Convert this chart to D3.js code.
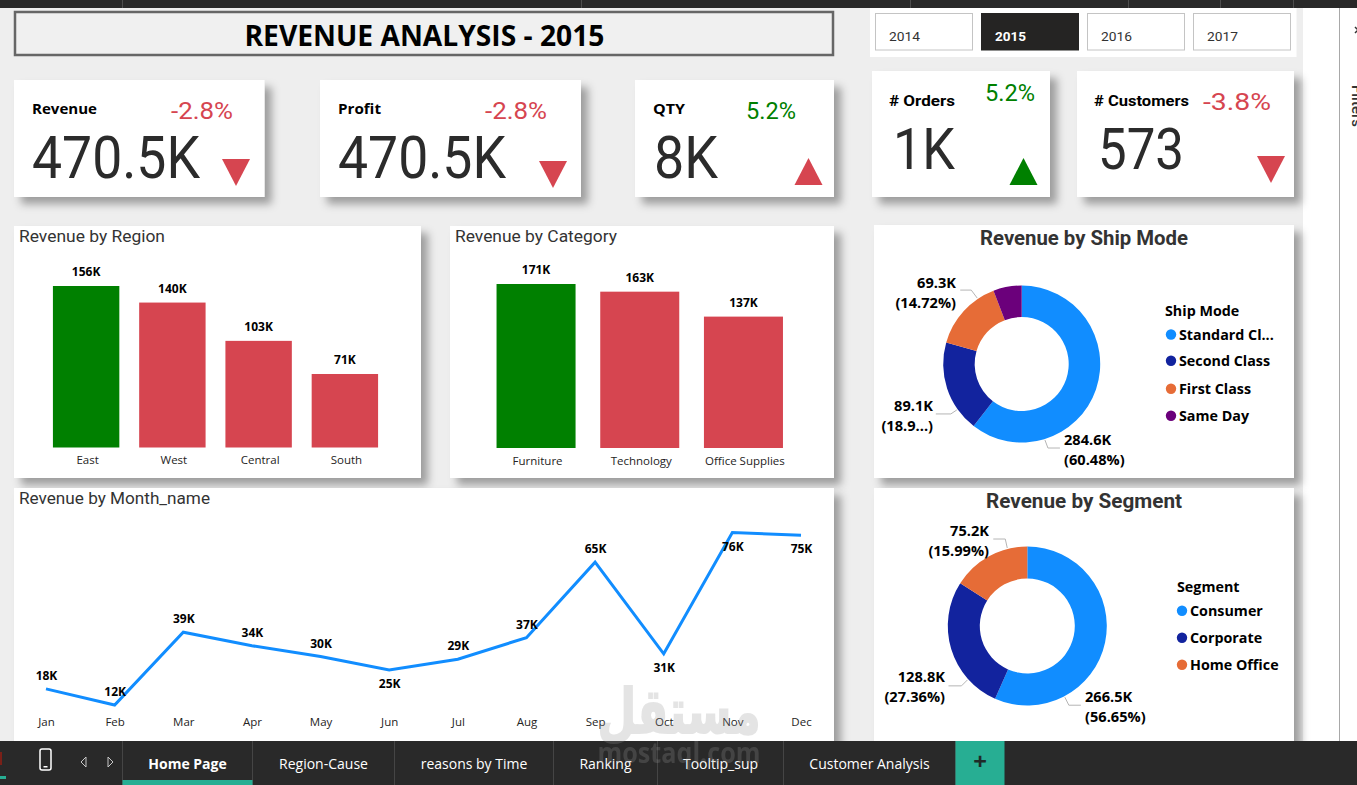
<!DOCTYPE html>
<html>
<head>
<meta charset="utf-8">
<title>Revenue Analysis 2015</title>
<script src="https://cdn.jsdelivr.net/npm/d3@7/dist/d3.min.js"></script>
<style>
  html, body { margin: 0; padding: 0; background: #eeeeee; overflow: hidden; }
  svg { display: block; }
  .axis path, .axis line { display: none; }
</style>
</head>
<body>
<svg id="report" width="1357" height="785"></svg>
<script>
// ---- report data ----
const reportTitle = "REVENUE ANALYSIS - 2015";
const years = ["2014", "2015", "2016", "2017"];
const selectedYear = "2015";

const kpiNames = ["Revenue", "Profit", "QTY", "# Orders", "# Customers"];
const kpiLabels = ["470.5K", "470.5K", "8K", "1K", "573"];
const kpiDeltas = [-2.8, -2.8, 5.2, 5.2, -3.8];
const kpiArrowOnTarget = [false, false, false, true, false];

const regions = ["East", "West", "Central", "South"];
const regionRevenue = [156, 140, 103, 71];

const categories = ["Furniture", "Technology", "Office Supplies"];
const categoryRevenue = [171, 163, 137];

const months = ["Jan", "Feb", "Mar", "Apr", "May", "Jun", "Jul", "Aug", "Sep", "Oct", "Nov", "Dec"];
const monthRevenue = [18, 12, 39, 34, 30, 25, 29, 37, 65, 31, 76, 75];
const monthsLabelledBelow = ["Jun", "Oct", "Nov", "Dec"];

const shipModes = ["Standard Class", "Second Class", "First Class", "Same Day"];
const shipModeLegend = ["Standard Cl...", "Second Class", "First Class", "Same Day"];
const shipRevenue = [284.6, 89.1, 69.3, 27.5];
const shipLabels = [["284.6K", "(60.48%)"], ["89.1K", "(18.9...)"], ["69.3K", "(14.72%)"]];

const segments = ["Consumer", "Corporate", "Home Office"];
const segmentRevenue = [266.5, 128.8, 75.2];
const segmentLabels = [["266.5K", "(56.65%)"], ["128.8K", "(27.36%)"], ["75.2K", "(15.99%)"]];

const tabs = ["Home Page", "Region-Cause", "reasons by Time", "Ranking", "Tooltip_sup", "Customer Analysis"];

// ---- palette and fonts ----
const GOOD = "#008000", BAD = "#D64550", BLUE = "#118DFF";
const sliceColors = ["#118DFF", "#12239E", "#E66C37", "#6B007B"];
const UI = "'Open Sans', 'Noto Sans', sans-serif";
const DIN = "Roboto, sans-serif";

const svg = d3.select("#report");

const defs = svg.append("defs");
const shadow = defs.append("filter").attr("id", "cardShadow")
  .attr("x", "-10%").attr("y", "-10%").attr("width", "125%").attr("height", "130%");
shadow.append("feDropShadow").attr("dx", 7).attr("dy", 7).attr("stdDeviation", 4)
  .attr("flood-color", "#000").attr("flood-opacity", 0.34);

// Text helper: `fit` squeezes or stretches the run to a given pixel width.
function text(parent, x, y, str, o = {}) {
  const t = parent.append("text").attr("x", x).attr("y", y).text(str)
    .attr("font-family", o.font || UI)
    .attr("font-size", o.size || 12)
    .attr("font-weight", o.weight || 400)
    .attr("fill", o.fill || "#000")
    .attr("text-anchor", o.anchor || "start");
  if (o.fit) t.attr("textLength", o.fit).attr("lengthAdjust", "spacingAndGlyphs");
  return t;
}

function panel(x, y, w, h) {
  svg.append("rect").attr("x", x).attr("y", y).attr("width", w).attr("height", h)
    .attr("fill", "#fff").attr("filter", "url(#cardShadow)");
}

// ---- chrome behind the canvas ----
svg.append("rect").attr("width", 1357).attr("height", 785).attr("fill", "#eeeeee");
svg.append("rect").attr("x", 1303).attr("width", 54).attr("height", 785).attr("fill", "#fff");
svg.append("line").attr("x1", 1339.5).attr("x2", 1339.5).attr("y1", 8).attr("y2", 741)
  .attr("stroke", "#a8a8a8");
text(svg, 0, 0, "Filters", { size: 15, font: DIN, weight: 500, fill: "#333" })
  .attr("transform", "translate(1352,85) rotate(90)");
svg.append("path").attr("d", "M1355 27l3 3l-3 3").attr("fill", "none").attr("stroke", "#333").attr("stroke-width", 1.5);

// ---- title banner ----
svg.append("rect").attr("x", 15).attr("y", 12).attr("width", 818).attr("height", 43)
  .attr("fill", "#f0f0f0").attr("stroke", "#666").attr("stroke-width", 2.5);
text(svg, 244.5, 46, reportTitle, { size: 28, weight: 700, fit: 360 });

// ---- year slicer ----
svg.append("rect").attr("x", 870).attr("y", 8).attr("width", 426.5).attr("height", 49).attr("fill", "#fff");
const slicerX = d3.scalePoint().domain(years).range([875, 1193]);
years.forEach(year => {
  const on = year === selectedYear, x = slicerX(year);
  svg.append("rect").attr("x", x + .5).attr("y", 13.5).attr("width", 97).attr("height", 36.5)
    .attr("fill", on ? "#252423" : "#fff").attr("stroke", on ? "#252423" : "#c4c4c4");
  text(svg, x + 14, 41, year, { font: DIN, size: 13.5, weight: on ? 700 : 400, fill: on ? "#fff" : "#333", fit: 31 });
});

// ---- KPI cards ----
const cardLayout = [
  { x: 14,   w: 250.5, y: 80, h: 117, nameX: 32,   nameY: 114, nameFit: 65, nameFont: UI,  numX: 32,   numY: 178, numFit: 168, numSize: 60, dX: 171,  dY: 119, dFit: 62, tX: 236,    tTop: 159 },
  { x: 320,  w: 261,   y: 80, h: 117, nameX: 338,  nameY: 114, nameFit: 43, nameFont: UI,  numX: 338,  numY: 178, numFit: 168, numSize: 60, dX: 485,  dY: 119, dFit: 62, tX: 553,    tTop: 161 },
  { x: 635,  w: 199,   y: 80, h: 117, nameX: 653,  nameY: 114, nameFit: 32, nameFont: UI,  numX: 654,  numY: 178, numFit: 64,  numSize: 60, dX: 746,  dY: 119, dFit: 50, tX: 808.5,  tTop: 158 },
  { x: 872,  w: 178,   y: 71, h: 126, nameX: 889,  nameY: 106, nameFit: 66, nameFont: DIN, numX: 893,  numY: 169, numFit: 62,  numSize: 58, dX: 985,  dY: 101, dFit: 50, tX: 1023.5, tTop: 158 },
  { x: 1077, w: 217,   y: 71, h: 126, nameX: 1094, nameY: 106, nameFit: 95, nameFont: DIN, numX: 1098, numY: 169, numFit: 86,  numSize: 58, dX: 1203, dY: 110, dFit: 68, tX: 1271,   tTop: 156 }
];
const triangle = d3.line();
kpiNames.forEach((name, i) => {
  const c = cardLayout[i], up = kpiDeltas[i] > 0;
  panel(c.x, c.y, c.w, c.h);
  text(svg, c.nameX, c.nameY, name, { size: 14, weight: 700, font: c.nameFont, fit: c.nameFit });
  text(svg, c.numX, c.numY, kpiLabels[i], { size: c.numSize, font: DIN, fill: "#2b2b2b", fit: c.numFit });
  text(svg, c.dX, c.dY, (up ? "" : "-") + Math.abs(kpiDeltas[i]).toFixed(1) + "%",
    { size: 24, font: DIN, fill: up ? GOOD : BAD, fit: c.dFit });
  const tipY = up ? c.tTop : c.tTop + 27, baseY = up ? c.tTop + 27 : c.tTop;
  svg.append("path").attr("fill", kpiArrowOnTarget[i] ? GOOD : BAD)
    .attr("d", triangle([[c.tX - 14, baseY], [c.tX + 14, baseY], [c.tX, tipY]]) + "Z");
});

// ---- bar charts ----
function barChart(names, values, o) {
  panel(o.panel[0], o.panel[1], o.panel[2], o.panel[3]);
  text(svg, o.panel[0] + 5, o.panel[1] + 16, o.title, { font: DIN, size: 16, fill: "#333", fit: o.titleFit });
  const x = d3.scaleBand().domain(names).range(o.xRange).paddingInner(o.pad).paddingOuter(o.pad / 2);
  const y = d3.scaleLinear().domain([0, d3.max(values)]).range([o.baseY, o.topY]);
  const g = svg.append("g");
  g.selectAll("rect").data(values).join("rect")
    .attr("x", (d, i) => x(names[i]))
    .attr("y", d => y(d))
    .attr("width", x.bandwidth())
    .attr("height", d => o.baseY - y(d))
    .attr("fill", (d, i) => i === 0 ? GOOD : BAD);
  g.selectAll("text").data(values).join("text")
    .attr("x", (d, i) => x(names[i]) + x.bandwidth() / 2)
    .attr("y", d => y(d) - 10)
    .attr("text-anchor", "middle")
    .attr("font-family", UI).attr("font-size", 12).attr("font-weight", 700).attr("fill", "#000")
    .text(d => d + "K");
  const axis = svg.append("g").attr("class", "axis")
    .attr("transform", `translate(0,${o.baseY})`)
    .call(d3.axisBottom(x).tickSize(0).tickPadding(o.tickPad));
  axis.selectAll("text").attr("font-family", UI).attr("font-size", 11.5).attr("fill", "#252423")
    .attr("dx", 1.5);
}
barChart(regions, regionRevenue, {
  panel: [14, 226, 407, 252], title: "Revenue by Region", titleFit: 146,
  xRange: [43, 388], pad: 0.23, baseY: 447.5, topY: 286, tickPad: 8
});
barChart(categories, categoryRevenue, {
  panel: [450, 226, 384, 252], title: "Revenue by Category", titleFit: 162,
  xRange: [484.2, 795.3], pad: 0.238, baseY: 448, topY: 284, tickPad: 9
});

// ---- monthly line ----
panel(14, 488, 820, 260);
text(svg, 19, 504, "Revenue by Month_name", { font: DIN, size: 16, fill: "#333", fit: 191 });
const xMonth = d3.scalePoint().domain(months).range([46, 801]);
const yMonth = d3.scaleLinear().domain([0, 76]).range([737.4, 532.5]);
svg.append("path").datum(monthRevenue)
  .attr("fill", "none").attr("stroke", BLUE).attr("stroke-width", 3).attr("stroke-linejoin", "miter")
  .attr("d", d3.line().x((d, i) => xMonth(months[i])).y(d => yMonth(d)));
svg.append("g").selectAll("text").data(monthRevenue).join("text")
  .attr("x", (d, i) => xMonth(months[i]) + 0.5)
  .attr("y", (d, i) => yMonth(d) + (monthsLabelledBelow.includes(months[i]) ? 18 : -9))
  .attr("text-anchor", "middle")
  .attr("font-family", UI).attr("font-size", 12).attr("font-weight", 700).attr("fill", "#000")
  .text(d => d + "K");
const monthAxis = svg.append("g").attr("class", "axis").attr("transform", "translate(0,706)")
  .call(d3.axisBottom(xMonth).tickSize(0).tickPadding(12));
monthAxis.selectAll("text").attr("font-family", UI).attr("font-size", 11.5).attr("fill", "#252423");

// ---- donuts ----
function donut(names, legendNames, values, labels, o) {
  panel(o.panel[0], o.panel[1], o.panel[2], o.panel[3]);
  text(svg, o.titleX, o.titleY, o.title, { font: DIN, size: 20, weight: 700, fill: "#333", fit: o.titleFit });
  const g = svg.append("g").attr("transform", `translate(${o.cx},${o.cy})`);
  const pie = d3.pie().sort(null).value(d => d);
  const arc = d3.arc().innerRadius(o.r).outerRadius(o.R);
  g.selectAll("path").data(pie(values)).join("path")
    .attr("d", arc).attr("fill", (d, i) => sliceColors[i]);

  labels.forEach((lines, i) => {
    const l = o.leaders[i], a = l.angle * Math.PI / 180;
    const p0 = [Math.sin(a) * (o.R + 1), -Math.cos(a) * (o.R + 1)];
    const p1 = [p0[0] + l.elbow[0], p0[1] + l.elbow[1]];
    const p2 = [p1[0] + l.tail, p1[1]];
    g.append("path").attr("d", d3.line()([p0, p1, p2]))
      .attr("fill", "none").attr("stroke", "#b5b5b5").attr("stroke-width", 1);
    text(svg, l.x, l.y, lines[0], { size: 14.6, weight: 700, anchor: l.anchor });
    text(svg, l.x, l.y + 20, lines[1], { size: 14.6, weight: 700, anchor: l.anchor });
  });

  text(svg, o.legendX, o.legendY, o.legendTitle, { size: 14.3, weight: 700 });
  legendNames.forEach((name, i) => {
    svg.append("circle").attr("cx", o.legendX + o.dotDx).attr("cy", o.rows[i]).attr("r", 5.2)
      .attr("fill", sliceColors[i]);
    text(svg, o.legendX + o.dotDx + 8, o.rows[i] + 5, name, { size: 14.3, weight: 700 });
  });
}
donut(shipModes, shipModeLegend, shipRevenue, shipLabels, {
  panel: [874, 225, 420, 253], title: "Revenue by Ship Mode", titleX: 980, titleY: 245, titleFit: 208,
  cx: 1021.7, cy: 364, R: 78.5, r: 47,
  leaders: [
    { angle: 163, elbow: [3, 8], tail: 12, x: 1064, y: 445, anchor: "start" },
    { angle: 234.7, elbow: [-6, 4], tail: -15, x: 933, y: 411, anchor: "end" },
    { angle: 326, elbow: [-6, -8], tail: -11, x: 956, y: 288, anchor: "end" }
  ],
  legendTitle: "Ship Mode", legendX: 1165, legendY: 316, dotDx: 6, rows: [334.5, 360.7, 388.7, 415.7]
});
donut(segments, segments, segmentRevenue, segmentLabels, {
  panel: [874, 488, 420, 260], title: "Revenue by Segment", titleX: 986, titleY: 508, titleFit: 196,
  cx: 1027.3, cy: 626, R: 79.5, r: 47.5,
  leaders: [
    { angle: 152.2, elbow: [4, 8], tail: 12, x: 1085, y: 702, anchor: "start" },
    { angle: 228, elbow: [-6, 6], tail: -13, x: 945, y: 682, anchor: "end" },
    { angle: 345.6, elbow: [-2, -9], tail: -12, x: 989, y: 536, anchor: "end" }
  ],
  legendTitle: "Segment", legendX: 1177, legendY: 592, dotDx: 5, rows: [610.7, 637.7, 664.7]
});

// ---- application bars ----
svg.append("rect").attr("width", 1357).attr("height", 8).attr("fill", "#292929");
[122.5, 581.5, 910.5, 1128.5, 1220.5, 1293.5].forEach(x =>
  svg.append("line").attr("x1", x).attr("x2", x).attr("y1", 0).attr("y2", 8).attr("stroke", "#4d4d4d"));

svg.append("rect").attr("y", 741).attr("width", 1357).attr("height", 44).attr("fill", "#292929");
svg.append("rect").attr("y", 752).attr("width", 2).attr("height", 13).attr("fill", "#7a2018");
svg.append("rect").attr("y", 776).attr("width", 6).attr("height", 3).attr("fill", "#27ae93");
svg.append("rect").attr("x", 40).attr("y", 749).attr("width", 11).attr("height", 21).attr("rx", 2)
  .attr("fill", "none").attr("stroke", "#fff").attr("stroke-width", 1.5);
svg.append("rect").attr("x", 43.5).attr("y", 766).attr("width", 4).attr("height", 1.5).attr("fill", "#fff");
svg.append("path").attr("d", "M86 757v10l-5 -5Z").attr("fill", "none").attr("stroke", "#c8c8c8");
svg.append("path").attr("d", "M108 757v10l5 -5Z").attr("fill", "none").attr("stroke", "#c8c8c8");

const tabEdges = [122.5, 252.5, 394.5, 553.5, 657.5, 783.5, 955.5];
tabEdges.forEach(x => svg.append("line").attr("x1", x).attr("x2", x).attr("y1", 741).attr("y2", 785).attr("stroke", "#454545"));
tabs.forEach((name, i) => {
  const on = i === 0;
  text(svg, (tabEdges[i] + tabEdges[i + 1]) / 2, 769, name, {
    size: 14, weight: on ? 700 : 400, fill: "#fff", anchor: "middle"
  });
});
svg.append("rect").attr("x", 122.5).attr("y", 780).attr("width", 130).attr("height", 5).attr("fill", "#27ae93");
svg.append("rect").attr("x", 955.5).attr("y", 741).attr("width", 49).attr("height", 44).attr("fill", "#27ae93");
text(svg, 980, 770, "+", { size: 24, weight: 700, fill: "#1f2a28", anchor: "middle" });

// ---- site watermark, laid over everything ----
const watermark = svg.append("g").attr("opacity", 0.25);
text(watermark, 679, 733, "مستقل", { font: "'DejaVu Sans'", size: 62, weight: 700, fill: "#969696", anchor: "middle", fit: 163 })
  .attr("stroke", "#969696").attr("stroke-width", 2);
text(watermark, 679, 763, "mostaql.com", { font: "'Open Sans'", size: 28, weight: 700, fill: "#969696", anchor: "middle", fit: 163 });
</script>
</body>
</html>
